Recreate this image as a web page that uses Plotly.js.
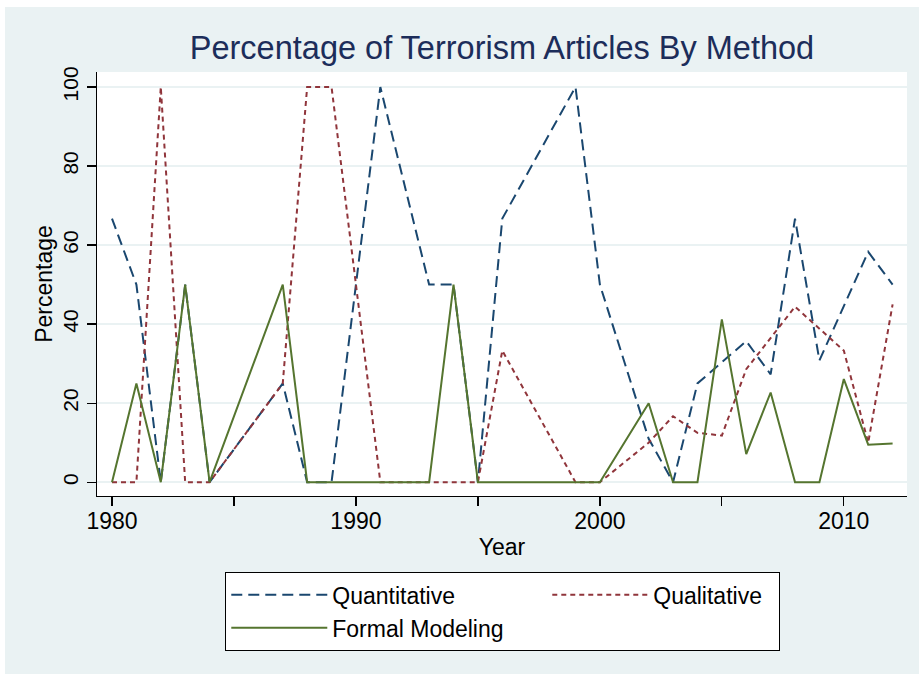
<!DOCTYPE html>
<html>
<head>
<meta charset="utf-8">
<script src="https://cdn.plot.ly/plotly-3.0.1.min.js"></script>
<style>
  html, body { margin: 0; padding: 0; background: #ffffff; }
  #chart { position: absolute; left: 5px; top: 7px; width: 914px; height: 667px; }
</style>
</head>
<body>
<div id="chart"></div>
<script>
// Years (1985 and 1986 absent from the series)
var years = [1980,1981,1982,1983,1984,1985,1986,1987,1988,1989,1990,1991,1992,1993,1994,1995,1996,1997,1998,1999,2000,2001,2002,2003,2004,2005,2006,2007,2008,2009,2010,2011,2012];

// Percentage values (null = no visible vertex)
var quantitative = [66.7,50,0,50,0,null,null,25,0,0,null,100,null,50,50,0,66.7,null,null,100,50,null,11,0,25,null,35.7,27.3,66.7,30.8,null,58.3,50];
var qualitative  = [0,0,100,0,0,null,null,25,100,100,null,0,0,0,0,0,33.3,null,null,0,0,null,10,16.7,12.5,11.8,28.6,null,44.4,null,33.3,10,45];
var formal       = [0,25,0,50,0,null,null,50,0,0,0,0,0,0,50,0,0,0,0,0,0,null,20,0,0,41.2,7.1,22.7,0,0,26.1,9.5,9.8];

var seriesNames = ["Quantitative", "Qualitative", "Formal Modeling"];
var yTicks = [0,20,40,60,80,100];
var xTicks = [1980,1990,2000,2010];
var xMinorTicks = [1985,1995,2005];

var FONT = "Liberation Sans, Arial, Helvetica, sans-serif";
var BG = "rgb(234,242,243)";

var traces = [
  {x: years, y: quantitative, name: seriesNames[0], type: "scatter", mode: "lines", connectgaps: true,
   line: {color: "#1a476f", width: 2, dash: "11px,6px"}},
  {x: years, y: qualitative, name: seriesNames[1], type: "scatter", mode: "lines", connectgaps: true,
   legendwidth: 120,
   line: {color: "#90353b", width: 2, dash: "5px,4px"}},
  {x: years, y: formal, name: seriesNames[2], type: "scatter", mode: "lines", connectgaps: true,
   line: {color: "#55752f", width: 2}}
];

var layout = {
  width: 914, height: 667,
  paper_bgcolor: BG,
  plot_bgcolor: "#ffffff",
  margin: {l: 92, r: 12, t: 65, b: 178},
  font: {family: FONT, color: "#000000"},
  title: {text: "Percentage of Terrorism Articles By Method", font: {family: FONT, size: 32.5, color: "#1c2d5a"},
          x: 0.5, xref: "paper", xanchor: "center", y: 0.9385, yref: "container", yanchor: "middle"},
  xaxis: {
    range: [1979.385, 2012.59],
    showline: true, linecolor: "#000000", linewidth: 1.3,
    ticks: "outside", ticklen: 9, tickwidth: 1.3, tickcolor: "#000000",
    tickmode: "array", tickvals: xTicks, ticktext: xTicks.map(String),
    ticklabelstandoff: -5,
    minor: {tickmode: "array", tickvals: xMinorTicks, ticks: "outside", ticklen: 9, tickwidth: 1.3, tickcolor: "#000000", showgrid: false},
    showgrid: false, zeroline: false,
    tickfont: {family: FONT, size: 23, color: "#000000"},
    title: {text: "Year", font: {family: FONT, size: 23, color: "#000000"}, standoff: 6},
    automargin: true
  },
  yaxis: {
    range: [-3.49, 103.8],
    showline: true, linecolor: "#000000", linewidth: 1.3,
    ticks: "outside", ticklen: 9, tickwidth: 1.3, tickcolor: "#000000",
    tickmode: "array", tickvals: yTicks, ticktext: yTicks.map(String),
    tickangle: -90,
    showgrid: true, gridcolor: BG, gridwidth: 2, zeroline: false,
    tickfont: {family: FONT, size: 21, color: "#000000"},
    title: {text: "Percentage", font: {family: FONT, size: 23, color: "#000000"}, standoff: 0},
    automargin: true
  },
  showlegend: true,
  legend: {
    orientation: "h", x: 0.158, y: -0.1795, xanchor: "left", yanchor: "top",
    bgcolor: "#ffffff", bordercolor: "#000000", borderwidth: 1.3,
    font: {family: FONT, size: 23, color: "#000000"},
    itemwidth: 96, entrywidthmode: "pixels", entrywidth: 210,
    traceorder: "normal"
  }
};

Plotly.newPlot("chart", traces, layout, {displayModeBar: false, staticPlot: true});
</script>
</body>
</html>
